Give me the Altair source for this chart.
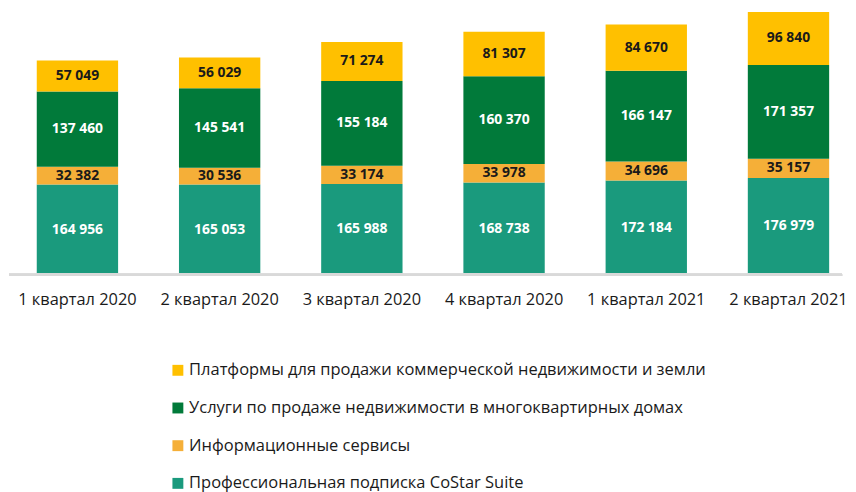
import altair as alt
import pandas as pd

quarters = ["1 квартал 2020", "2 квартал 2020", "3 квартал 2020",
            "4 квартал 2020", "1 квартал 2021", "2 квартал 2021"]

# stacking order bottom -> top
series = ["Профессиональная подписка CoStar Suite",
          "Информационные сервисы",
          "Услуги по продаже недвижимости в многоквартирных домах",
          "Платформы для продажи коммерческой недвижимости и земли"]
suite = [164956, 165053, 165988, 168738, 172184, 176979]
info = [32382, 30536, 33174, 33978, 34696, 35157]
multi = [137460, 145541, 155184, 160370, 166147, 171357]
platforms = [57049, 56029, 71274, 81307, 84670, 96840]

colors = ["#1A9A7D", "#F5AF38", "#017A3A", "#FFC000"]
text_colors = ["#FFFFFF", "#1A1A1A", "#FFFFFF", "#1A1A1A"]

values = [suite, info, multi, platforms]
rows = []
for qi, q in enumerate(quarters):
    base = 0
    for si, s in enumerate(series):
        v = values[si][qi]
        rows.append({
            "q": q, "s": s, "v": v,
            "y0": base, "y1": base + v, "mid": base + v / 2,
            "label": f"{v:,}".replace(",", " "),
            "tc": text_colors[si],
        })
        base += v
df = pd.DataFrame(rows)

FONT = "Open Sans"

x_enc = alt.X("q:N", sort=quarters, title=None,
              scale=alt.Scale(range=[28, 827], paddingInner=0.428, paddingOuter=0),
              axis=alt.Axis(labelAngle=0, domain=False, ticks=False, grid=False,
                            labelFontSize=16.5, labelFont=FONT, labelColor="#1A1A1A",
                            labelPadding=17))
y_scale = alt.Scale(domain=[0, 483958])

legend_order = series[::-1]
legend_colors = colors[::-1]

bars = alt.Chart(df).mark_bar().encode(
    x=x_enc,
    y=alt.Y("y0:Q", scale=y_scale, axis=None),
    y2="y1:Q",
    color=alt.Color("s:N", scale=alt.Scale(domain=legend_order, range=legend_colors),
                    legend=alt.Legend(title=None, orient="none", legendX=162, legendY=355,
                                      direction="vertical", symbolType="square",
                                      symbolSize=121, symbolStrokeWidth=0,
                                      labelFont=FONT, labelFontSize=16.6,
                                      labelColor="#1A1A1A", labelOffset=3,
                                      rowPadding=21, labelLimit=700)),
)

texts = alt.Chart(df).mark_text(fontWeight="bold", fontSize=14, font=FONT).encode(
    x=alt.X("q:N", sort=quarters),
    y=alt.Y("mid:Q", scale=y_scale),
    text="label:N",
    color=alt.Color("tc:N", scale=None, legend=None),
)

base_line = alt.Chart(df).mark_rule(color="#D9D9D9", strokeWidth=2).encode(
    x=alt.value(0), x2=alt.value(840), y=alt.value(267)
)

chart = alt.layer(bars, texts, base_line).properties(
    width=840, height=267, padding=0
).configure_view(stroke=None)

chart.save("out.html", embed_options={"renderer": "svg", "actions": False})
